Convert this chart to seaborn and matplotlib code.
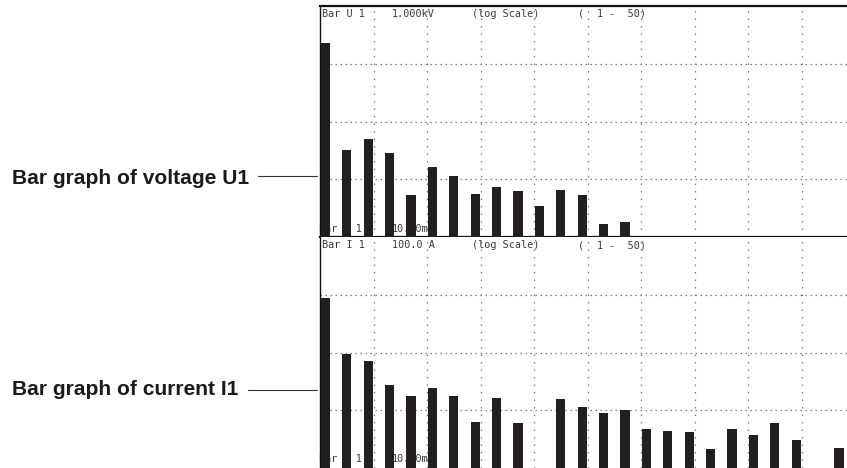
import numpy as np
import pandas as pd
import matplotlib
matplotlib.use("Agg")
import matplotlib.pyplot as plt
from matplotlib.lines import Line2D
import seaborn as sns

# ---------------- data ----------------
u_orders = [1, 3, 5, 7, 9, 11, 13, 15, 17, 19, 21, 23, 25, 27, 29]
u_values = [158, 0.76, 1.30, 0.65, 0.080, 0.32, 0.21, 0.085, 0.12, 0.10,
            0.048, 0.106, 0.080, 0.019, 0.0214]          # V

i_orders = [1, 3, 5, 7, 9, 11, 13, 15, 17, 19, 23, 25, 27, 29, 31, 33,
            35, 37, 39, 41, 43, 45, 49]
i_values = [8.7, 0.93, 0.72, 0.27, 0.18, 0.24, 0.18, 0.063, 0.16, 0.061,
            0.155, 0.115, 0.090, 0.10, 0.047, 0.043, 0.0415, 0.021, 0.047,
            0.038, 0.060, 0.031, 0.022]                  # A

u_header = ["Bar U 1", "1.000kV", "(log Scale)", "(", "1 -  50)"]
u_footer = ["Bar U 1", "10.00mV"]
i_header = ["Bar I 1", "100.0 A", "(log Scale)", "(", "1 -  50)"]
i_footer = ["Bar I 1", "10.00mA"]
labels = ["Bar graph of voltage U1", "Bar graph of current I1"]

# ---------------- style ----------------
sns.set_theme(style="white")
plt.rcParams['font.family'] = ['Liberation Sans', 'DejaVu Sans']

W, H = 847, 468
fig = plt.figure(figsize=(W / 100, H / 100), dpi=100)

BAR = "#231f20"
GRID = "#7a7a7a"
TXT = "#3a3a3a"

X0, XW = 320, 535        # axes left / width in px (right edge clipped by figure)
PH = 231                 # panel height px


def make_ax(top_px):
    return fig.add_axes([X0 / W, (H - top_px - PH) / H, XW / W, PH / H])


def draw_panel(ax, orders, values, ylim, header, footer, top_spine=True):
    df = pd.DataFrame({"order": orders, "value": values})
    sns.barplot(data=df, x="order", y="value", native_scale=True, width=0.43,
                color=BAR, saturation=1, errorbar=None, edgecolor="none",
                ax=ax, zorder=3)
    ax.set_yscale("log")
    ax.set_xlim(0.5, 50.5)
    ax.set_ylim(*ylim)
    lo, hi = np.log10(ylim[0]), np.log10(ylim[1])
    for k in range(1, 4):
        ax.axhline(10 ** (lo + (hi - lo) * k / 4), color=GRID, lw=0.9,
                   ls=(0, (1.2, 2.8)), zorder=1)
    for xv in np.arange(5.5, 50, 5):
        ax.axvline(xv, color=GRID, lw=0.9, ls=(0, (1.2, 4.8)), zorder=1)
    ax.tick_params(which="both", length=0, labelleft=False, labelbottom=False)
    ax.set_xlabel("")
    ax.set_ylabel("")
    for s in ax.spines.values():
        s.set_color("#111111")
    ax.spines["right"].set_visible(False)
    ax.spines["left"].set_linewidth(1.0)
    ax.spines["top"].set_linewidth(1.6 if top_spine else 0)
    ax.spines["bottom"].set_linewidth(1.6 if top_spine else 0.5)
    if not top_spine:
        ax.spines["top"].set_visible(False)
        ax.spines["bottom"].set_color("#cccccc")

    def fx(px):
        return (px - X0) / XW

    hx = [322, 392, 472, 578, 597]
    for t, px in zip(header, hx):
        ax.text(fx(px), 1 - 3 / PH, t, transform=ax.transAxes, ha="left",
                va="top", fontsize=7.3, family="DejaVu Sans Mono", color=TXT,
                zorder=2)
    fxp = [319, 392]
    for t, px in zip(footer, fxp):
        ax.text(fx(px), 3.5 / PH, t, transform=ax.transAxes, ha="left",
                va="bottom", fontsize=7.3, family="DejaVu Sans Mono",
                color=TXT, zorder=2)


ax_u = make_ax(6)
draw_panel(ax_u, u_orders, u_values, (0.01, 1000), u_header, u_footer, True)
ax_i = make_ax(237)
draw_panel(ax_i, i_orders, i_values, (0.01, 100), i_header, i_footer, False)

# left annotations with leader lines
for lab, yc, x_line0 in [(labels[0], 179, 258), (labels[1], 389.5, 248)]:
    fig.text(12 / W, 1 - yc / H, lab, ha="left", va="center", fontsize=15.1,
             fontweight="bold", color="#1a1a1a")
    ly = 1 - (yc - 3 if lab == labels[0] else yc) / H
    fig.add_artist(Line2D([x_line0 / W, 317 / W], [ly, ly], color="#333333",
                          lw=0.8, transform=fig.transFigure))

fig.savefig("out.png", dpi=100)
